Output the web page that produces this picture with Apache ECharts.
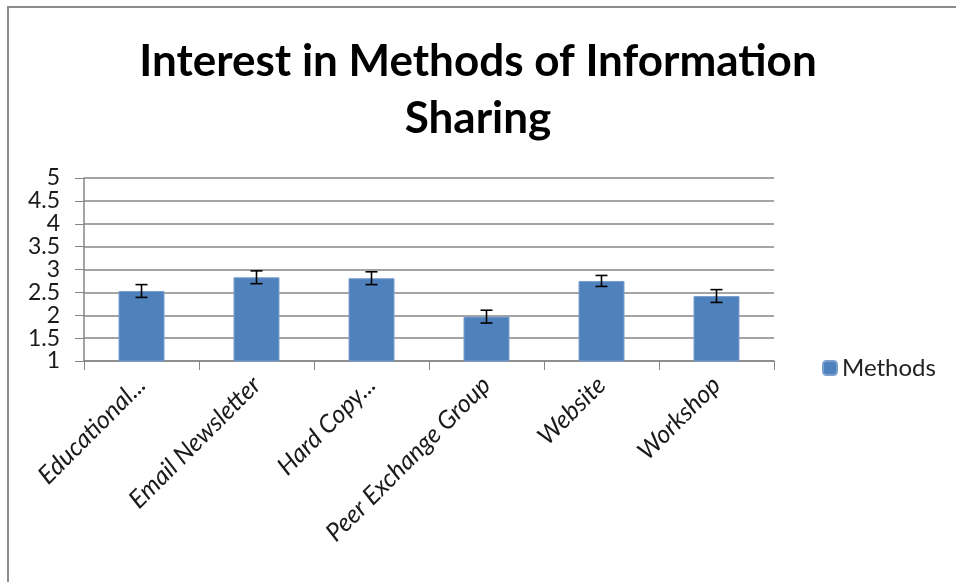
<!DOCTYPE html>
<html>
<head>
<meta charset="utf-8">
<script src="https://cdn.jsdelivr.net/npm/echarts@6/dist/echarts.min.js"></script>
<style>
  html, body { margin: 0; padding: 0; background: #fff; }
  #frame {
    position: absolute; left: 7px; top: 6px;
    width: 980px; height: 600px;
    border: 2px solid #8c8c8c;
  }
  #chart { position: absolute; left: 0; top: 0; width: 956px; height: 582px; }
</style>
</head>
<body>
<div id="frame"></div>
<div id="chart"></div>
<script>
// chart data
const categories = ['Educational...', 'Email Newsletter', 'Hard Copy...', 'Peer Exchange Group', 'Website', 'Workshop']
const meanValues = [2.53, 2.83, 2.81, 1.97, 2.75, 2.42]
const errorValues = [0.14, 0.14, 0.14, 0.14, 0.12, 0.14]
const yTicks = [1, 1.5, 2, 2.5, 3, 3.5, 4, 4.5, 5]

const chart = echarts.init(document.getElementById('chart'))

const errorData = meanValues.map((v, i) => [i, v - errorValues[i], v + errorValues[i]])

chart.setOption({
  animation: false,
  title: {
    text: 'Interest in Methods of Information\nSharing',
    left: 'center',
    top: 28,
    textStyle: {
      fontFamily: 'Lato',
      fontWeight: 'bold',
      fontSize: 44,
      lineHeight: 57,
      color: '#000'
    }
  },
  legend: {
    data: ['Methods'],
    orient: 'vertical',
    left: 817,
    top: 351,
    itemWidth: 14,
    itemHeight: 14,
    itemGap: 6,
    textStyle: { fontFamily: 'Lato', fontSize: 24, color: '#222' }
  },
  grid: { left: 84, right: 182, top: 178, bottom: 221 },
  xAxis: {
    type: 'category',
    data: categories,
    axisLine: { lineStyle: { color: '#868686', width: 1.5 } },
    axisTick: { show: true, length: 9, lineStyle: { color: '#868686' } },
    axisLabel: {
      rotate: 45,
      margin: 20,
      interval: 0,
      fontFamily: 'Lato',
      fontStyle: 'italic',
      fontSize: 25,
      color: '#1a1a1a'
    }
  },
  yAxis: {
    type: 'value',
    min: yTicks[0],
    max: yTicks[yTicks.length - 1],
    interval: 0.5,
    axisLine: { show: true, lineStyle: { color: '#868686', width: 1.5 } },
    axisTick: { show: true, length: 9, lineStyle: { color: '#868686' } },
    axisLabel: { margin: 24, fontFamily: 'Lato', fontSize: 23, color: '#1a1a1a' },
    splitLine: { lineStyle: { color: '#868686', width: 1.5 } }
  },
  series: [
    {
      name: 'Methods',
      type: 'bar',
      data: meanValues,
      barWidth: 46,
      itemStyle: { color: '#4f81bd', borderColor: '#7a9fcf', borderWidth: 1 }
    },
    {
      name: 'error',
      type: 'custom',
      data: errorData,
      z: 10,
      renderItem: function (params, api) {
        const x = api.value(0)
        const low = api.coord([x, api.value(1)])
        const high = api.coord([x, api.value(2)])
        const half = 6
        const style = { stroke: '#000', lineWidth: 1.6 }
        return {
          type: 'group',
          children: [
            { type: 'line', shape: { x1: high[0], y1: high[1], x2: low[0], y2: low[1] }, style },
            { type: 'line', shape: { x1: high[0] - half, y1: high[1], x2: high[0] + half, y2: high[1] }, style },
            { type: 'line', shape: { x1: low[0] - half, y1: low[1], x2: low[0] + half, y2: low[1] }, style }
          ]
        }
      }
    }
  ]
})
</script>
</body>
</html>
